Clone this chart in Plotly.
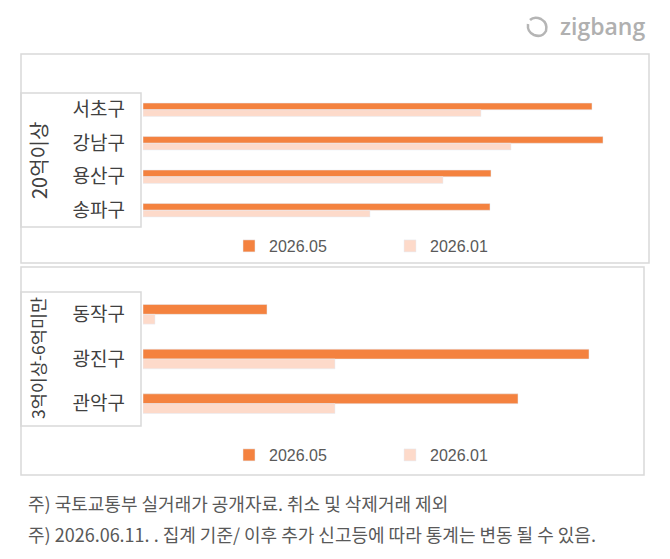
import plotly.graph_objects as go

W, H = 670, 559

# ---- data ----
top_group = "20억이상"
top_regions = ["서초구", "강남구", "용산구", "송파구"]
top_may = [449, 460, 348, 347]
top_jan = [338, 368, 300, 227]

bot_group = "3억이상-6억미만"
bot_regions = ["동작구", "광진구", "관악구"]
bot_may = [124, 446, 375]
bot_jan = [12, 192, 192]

series_names = ["2026.05", "2026.01"]
notes = [
    "주) 국토교통부 실거래가 공개자료. 취소 및 삭제거래 제외",
    "주) 2026.06.11. . 집계 기준/ 이후 추가 신고등에 따라 통계는 변동 될 수 있음.",
]

C_MAY = "#F4823F"
C_JAN = "#FDDACA"
BORDER = "#D9D9D9"
KR = "Noto Sans CJK KR"


def px(x):
    return x / W


def py(y):
    return 1 - y / H


fig = go.Figure()

w_top = 0.2
w_bot = 0.22
fig.add_trace(go.Bar(y=top_regions, x=top_may, orientation="h", name=series_names[0],
                     marker_color=C_MAY, width=w_top, offset=-w_top,
                     xaxis="x", yaxis="y", legend="legend"))
fig.add_trace(go.Bar(y=top_regions, x=top_jan, orientation="h", name=series_names[1],
                     marker_color=C_JAN, width=w_top, offset=0,
                     xaxis="x", yaxis="y", legend="legend"))
fig.add_trace(go.Bar(y=bot_regions, x=bot_may, orientation="h", name=series_names[0],
                     marker_color=C_MAY, width=w_bot, offset=-w_bot,
                     xaxis="x2", yaxis="y2", legend="legend2"))
fig.add_trace(go.Bar(y=bot_regions, x=bot_jan, orientation="h", name=series_names[1],
                     marker_color=C_JAN, width=w_bot, offset=0,
                     xaxis="x2", yaxis="y2", legend="legend2"))

xcommon = dict(showgrid=False, zeroline=False, showline=False, showticklabels=False,
               ticks="", range=[0, 502], fixedrange=True)
ycommon = dict(showgrid=False, zeroline=False, showline=False, ticks="",
               tickfont=dict(family=KR, size=19, color="#404040"),
               ticklabelstandoff=17, type="category")

legend_common = dict(orientation="h", xanchor="left", yanchor="middle",
                     font=dict(family="Liberation Sans", size=16, color="#595959"),
                     entrywidth=116, itemwidth=30, bgcolor="rgba(0,0,0,0)",
                     tracegroupgap=0)

fig.update_layout(
    width=W, height=H,
    margin=dict(l=0, r=0, t=0, b=0),
    paper_bgcolor="white", plot_bgcolor="rgba(0,0,0,0)",
    barmode="overlay",
    xaxis=dict(domain=[px(143), px(645)], anchor="y", **xcommon),
    yaxis=dict(domain=[py(227), py(93)], anchor="x",
               range=[len(top_regions) - 0.5, -0.5], **ycommon),
    xaxis2=dict(domain=[px(143), px(645)], anchor="y2", **xcommon),
    yaxis2=dict(domain=[py(426), py(292)], anchor="x2",
                range=[len(bot_regions) - 0.5, -0.5], **ycommon),
    legend=dict(x=px(229), y=py(246), **legend_common),
    legend2=dict(x=px(229), y=py(455), **legend_common),
    showlegend=True,
)

shapes = []
# panel frames
for (x0, y0, x1, y1) in [(21, 54, 649, 263), (21, 267, 644, 475)]:
    shapes.append(dict(type="rect", xref="paper", yref="paper",
                       x0=px(x0), x1=px(x1), y0=py(y1), y1=py(y0),
                       line=dict(color=BORDER, width=1.5), layer="below"))
# category boxes
for (x0, y0, x1, y1) in [(21, 93, 141, 227), (21, 292, 141, 426)]:
    shapes.append(dict(type="rect", xref="paper", yref="paper",
                       x0=px(x0), x1=px(x1), y0=py(y1), y1=py(y0),
                       line=dict(color=BORDER, width=1.5), layer="below"))
# zigbang icon
shapes.append(dict(type="path", xref="paper", yref="paper",
                   xsizemode="pixel", ysizemode="pixel",
                   xanchor=px(537), yanchor=py(27),
                   path="M -9,3 Q -10,-5 -3,-8 Q 5,-11 9,-4 Q 11,4 4,8 Q -3,11 -7,7",
                   line=dict(color="#B5B5B5", width=2.5)))
fig.update_layout(shapes=shapes)

ann = []
ann.append(dict(text=top_group, x=px(38), y=py(161), xref="paper", yref="paper",
                textangle=-90, showarrow=False, xanchor="center", yanchor="middle",
                font=dict(family=KR, size=20, color="#404040")))
ann.append(dict(text=bot_group, x=px(37), y=py(358), xref="paper", yref="paper",
                textangle=-90, showarrow=False, xanchor="center", yanchor="middle",
                font=dict(family=KR, size=17.5, color="#404040")))
ann.append(dict(text="zigbang", x=px(602), y=py(26), xref="paper", yref="paper",
                showarrow=False, xanchor="center", yanchor="middle",
                font=dict(family="Open Sans", size=23, color="#B0B0B0", weight=600)))
for i, t in enumerate(notes):
    ann.append(dict(text=t, x=px(26), y=py(503 + 31 * i), xref="paper", yref="paper",
                    showarrow=False, xanchor="left", yanchor="middle",
                    font=dict(family=KR, size=18, color="#595959")))
fig.update_layout(annotations=ann)

fig.write_html("out.html")
